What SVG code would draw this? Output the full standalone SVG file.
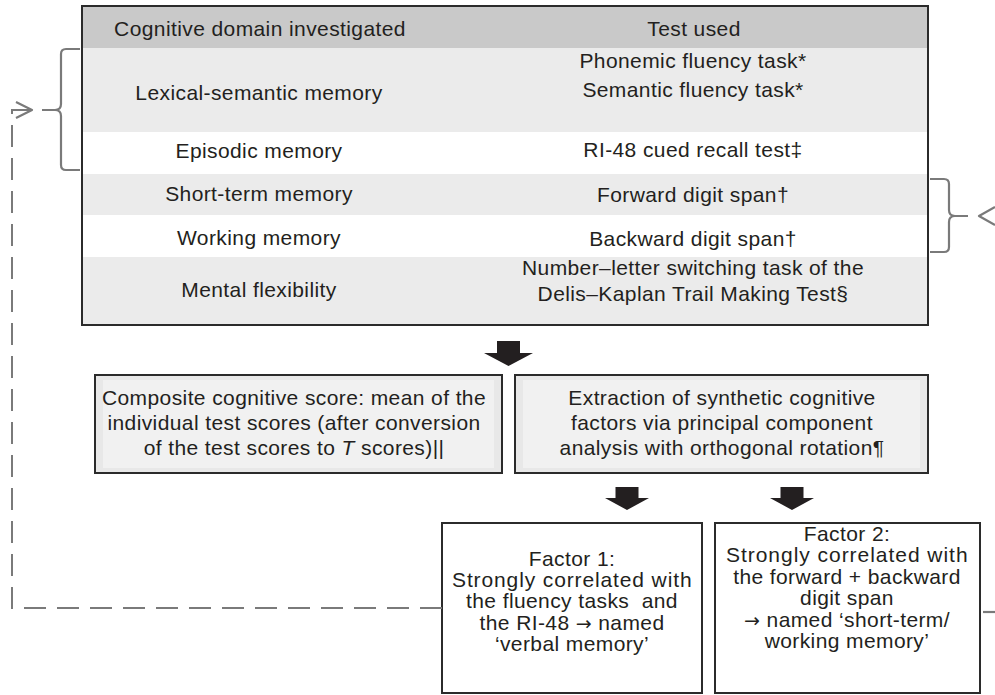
<svg xmlns="http://www.w3.org/2000/svg" width="995" height="695" viewBox="0 0 995 695">
<style>
text{font-family:"Liberation Sans",Arial,sans-serif;font-size:21px;letter-spacing:0.4px;fill:#231f20;text-anchor:middle}
.arr{font-family:"DejaVu Sans",sans-serif;font-size:19px}
.border{fill:none;stroke:#2b2b2b;stroke-width:2}
.box{fill:#e8e8e8;stroke:#2b2b2b;stroke-width:2}
.inner{fill:#f1f1f1}
.fbox{fill:#ffffff;stroke:#2b2b2b;stroke-width:2}
.brk{fill:none;stroke:#7a7a7a;stroke-width:2.2;stroke-linejoin:round}
.dash{fill:none;stroke:#7a7a7a;stroke-width:2;stroke-dasharray:22 11}
.blk{fill:#231f20}
</style>
<g id="table">
<rect x="82" y="6" width="846" height="42" fill="#c9c9c9"/>
<rect x="82" y="48" width="846" height="84" fill="#ebebeb"/>
<rect x="82" y="132" width="846" height="42" fill="#ffffff"/>
<rect x="82" y="174" width="846" height="41" fill="#ebebeb"/>
<rect x="82" y="215" width="846" height="42" fill="#ffffff"/>
<rect x="82" y="257" width="846" height="68" fill="#ebebeb"/>
<rect class="border" x="82" y="6" width="846" height="319"/>
<text x="260" y="36">Cognitive domain investigated</text>
<text x="694" y="36">Test used</text>
<text x="259" y="100">Lexical-semantic memory</text>
<text x="693" y="68">Phonemic fluency task*</text>
<text x="693" y="97">Semantic fluency task*</text>
<text x="259" y="158">Episodic memory</text>
<text x="693" y="157">RI-48 cued recall test‡</text>
<text x="259" y="201">Short-term memory</text>
<text x="693" y="202">Forward digit span†</text>
<text x="259" y="245">Working memory</text>
<text x="693" y="246">Backward digit span†</text>
<text x="259" y="297">Mental flexibility</text>
<text x="693" y="275">Number–letter switching task of the</text>
<text x="693" y="301">Delis–Kaplan Trail Making Test§</text>
</g>
<g id="composite">
<rect class="box" x="95" y="375" width="407" height="98"/>
<rect class="inner" x="103" y="380" width="391" height="88"/>
<text x="294" y="405">Composite cognitive score: mean of the</text>
<text x="294" y="430">individual test scores (after conversion</text>
<text x="294" y="455">of the test scores to <tspan font-style="italic">T</tspan> scores)||</text>
</g>
<g id="extraction">
<rect class="box" x="515" y="375" width="413" height="98"/>
<rect class="inner" x="523" y="380" width="397" height="88"/>
<text x="722" y="405">Extraction of synthetic cognitive</text>
<text x="722" y="430">factors via principal component</text>
<text x="722" y="455">analysis with orthogonal rotation¶</text>
</g>
<g id="factor1">
<rect class="fbox" x="442" y="523" width="260" height="170"/>
<text x="572" y="566">Factor 1:</text>
<text x="572" y="587" textLength="240" lengthAdjust="spacing">Strongly correlated with</text>
<text x="572" y="608">the fluency tasks&#160; and</text>
<text x="572" y="630">the RI-48 <tspan class="arr">→</tspan> named</text>
<text x="572" y="651">‘verbal memory’</text>
</g>
<g id="factor2">
<rect class="fbox" x="715" y="523" width="265" height="170"/>
<text x="847" y="541">Factor 2:</text>
<text x="847" y="562" textLength="242" lengthAdjust="spacing">Strongly correlated with</text>
<text x="847" y="584">the forward + backward</text>
<text x="847" y="605">digit span</text>
<text x="847" y="627"><tspan class="arr">→</tspan> named ‘short-term/</text>
<text x="847" y="648">working memory’</text>
</g>
<g id="connectors">
<polygon class="blk" points="497,341 520,341 520,353 533,353 508.5,366 484,353 497,353"/>
<polygon class="blk" points="615.5,487 638.5,487 638.5,498 649,498 627,510 605,498 615.5,498"/>
<polygon class="blk" points="780.5,487 803.5,487 803.5,498 814,498 792,510 770,498 780.5,498"/>
<path class="brk" d="M80,49 H66 Q61,49 61,54 V104 Q61,110 55,110 H42 M55,110 Q61,110 61,116 V165 Q61,170 66,170 H80"/>
<path class="brk" d="M930,179 H944 Q949,179 949,184 V210 Q949,216 955,216 H968 M955,216 Q949,216 949,222 V247 Q949,252 944,252 H930"/>
<path class="dash" d="M442,608 H12 V110 H30"/>
<path class="brk" d="M16,102 L32,110 L16,118"/>
<path class="brk" d="M995,207 L979,216 L995,225"/>
<path class="brk" d="M983,612 H995"/>
</g>
</svg>
